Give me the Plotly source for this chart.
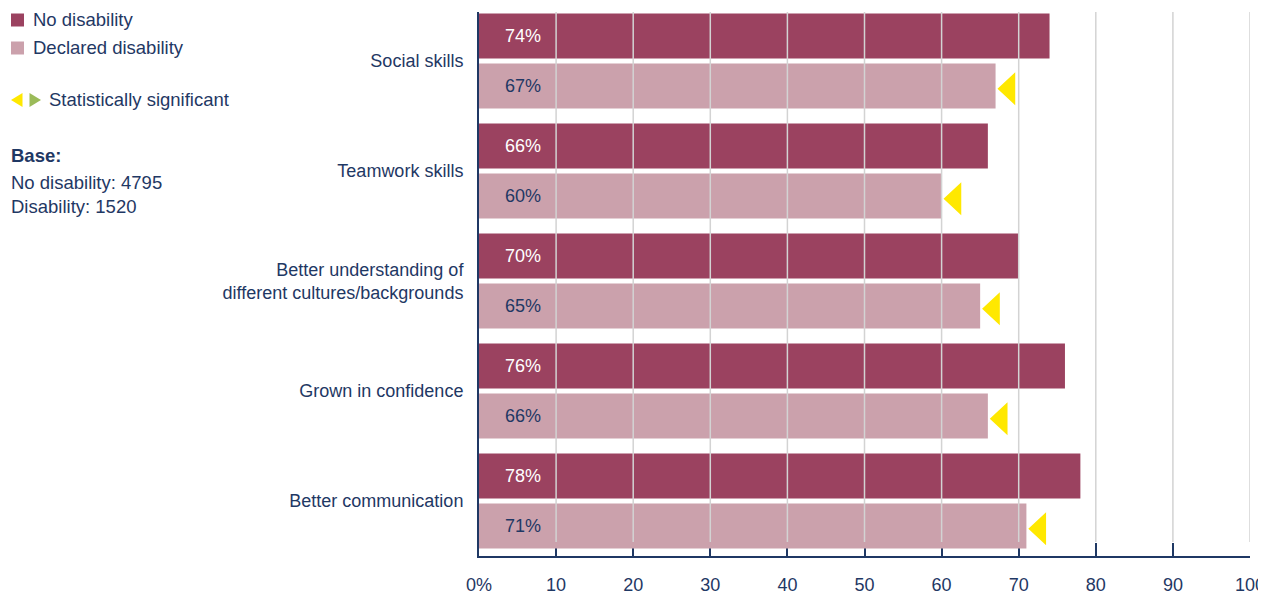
import plotly.graph_objects as go

categories = ["Social skills", "Teamwork skills",
              "Better understanding of<br>different cultures/backgrounds",
              "Grown in confidence", "Better communication"]
no_disability = [74, 66, 70, 76, 78]
declared_disability = [67, 60, 65, 66, 71]
significant_lower = [True, True, True, True, True]
x_ticks = [0, 10, 20, 30, 40, 50, 60, 70, 80, 90, 100]
x_ticktext = ["0%", "10", "20", "30", "40", "50", "60", "70", "80", "90", "100"]

NAVY = "#1F3864"
DARK = "#9B4260"
LIGHT = "#CBA1AC"
YELLOW = "#FFE800"
GREEN = "#9BBB59"
FONT = "Liberation Sans, Arial, sans-serif"
FS = 18
FS_LEG = 18.5

PAGE_OFF = 8  # page body margin
W, H = 1266 - PAGE_OFF, 596 - PAGE_OFF
ML, MR, MT, MB = 0, 16, 4, 40
PW = W - ML - MR
PH = H - MT - MB


def px(x):
    return (x - PAGE_OFF - ML) / PW


def py(y):
    return 1 - (y - PAGE_OFF - MT) / PH


ypos = list(range(len(categories)))
OFF = 0.2273
BW = 0.409

fig = go.Figure()
fig.add_trace(go.Bar(y=[i - OFF for i in ypos], x=no_disability, orientation="h",
                     width=BW, marker=dict(color=DARK, line=dict(width=0)),
                     name="No disability", hoverinfo="x"))
fig.add_trace(go.Bar(y=[i + OFF for i in ypos], x=declared_disability, orientation="h",
                     width=BW, marker=dict(color=LIGHT, line=dict(width=0)),
                     name="Declared disability", hoverinfo="x"))

# significance triangles (derived from data values)
tx, ty = [], []
for i, (v, s) in enumerate(zip(declared_disability, significant_lower)):
    if not s:
        continue
    c = i + OFF + 0.025
    tx += [v + 0.25, v + 2.55, v + 2.55, v + 0.25, None]
    ty += [c, c - 0.15, c + 0.15, c, None]
fig.add_trace(go.Scatter(x=tx, y=ty, mode="lines", fill="toself", fillcolor=YELLOW,
                         line=dict(width=0, color=YELLOW), hoverinfo="skip",
                         showlegend=False))

annotations = []
for i in ypos:
    annotations.append(dict(x=5.7, y=i - OFF, xref="x", yref="y",
                            text=f"{no_disability[i]}%", showarrow=False,
                            font=dict(color="white", size=FS, family=FONT)))
    annotations.append(dict(x=5.7, y=i + OFF, xref="x", yref="y",
                            text=f"{declared_disability[i]}%", showarrow=False,
                            font=dict(color=NAVY, size=FS, family=FONT)))

legend_texts = [
    (31, 20, "No disability"),
    (31, 47, "Declared disability"),
    (47, 100, "Statistically significant"),
    (9, 155, "<b>Base:</b>"),
    (9, 182, "No disability: 4795"),
    (9, 207, "Disability: 1520"),
]
for x, y, t in legend_texts:
    annotations.append(dict(x=px(x), y=py(y), xref="paper", yref="paper", text=t,
                            showarrow=False, xanchor="left", yanchor="middle",
                            font=dict(color=NAVY, size=FS_LEG, family=FONT)))

shapes = []
# gridlines above bars
for t in x_ticks[1:]:
    shapes.append(dict(type="line", xref="x", yref="paper", x0=t, x1=t,
                       y0=py(542), y1=1, layer="above",
                       line=dict(color="#D3D3D3", width=1.5)))
# legend markers
shapes.append(dict(type="rect", xref="paper", yref="paper", x0=px(11), x1=px(24),
                   y0=py(26.5), y1=py(13.5), fillcolor=DARK, line=dict(width=0)))
shapes.append(dict(type="rect", xref="paper", yref="paper", x0=px(11), x1=px(24),
                   y0=py(54.5), y1=py(41.5), fillcolor=LIGHT, line=dict(width=0)))
shapes.append(dict(type="path", xref="paper", yref="paper",
                   path=f"M {px(11)} {py(100)} L {px(22.5)} {py(93)} L {px(22.5)} {py(107)} Z",
                   fillcolor=YELLOW, line=dict(width=0)))
shapes.append(dict(type="path", xref="paper", yref="paper",
                   path=f"M {px(41)} {py(100)} L {px(29.5)} {py(93)} L {px(29.5)} {py(107)} Z",
                   fillcolor=GREEN, line=dict(width=0)))

fig.update_layout(
    width=W, height=H,
    margin=dict(l=ML, r=MR, t=MT, b=MB, autoexpand=False),
    paper_bgcolor="white", plot_bgcolor="white",
    showlegend=False,
    barmode="overlay",
    font=dict(family=FONT, size=FS, color=NAVY),
    annotations=annotations,
    shapes=shapes,
    xaxis=dict(domain=[px(479), 1], range=[0, 100], tickvals=x_ticks,
               ticktext=x_ticktext, ticks="inside", ticklen=13, tickwidth=2,
               tickcolor=NAVY, showline=True, linecolor=NAVY, linewidth=2,
               showgrid=False, zeroline=False, layer="below traces", automargin=False,
               ticklabelstandoff=11, tickfont=dict(size=FS, color=NAVY, family=FONT)),
    yaxis=dict(range=[4.5, -0.445], tickvals=ypos, ticktext=categories,
               showline=True, linecolor=NAVY, linewidth=2, ticks="", automargin=False,
               showgrid=False, zeroline=False, layer="above traces",
               ticklabelstandoff=10, tickfont=dict(size=FS, color=NAVY, family=FONT)),
)

fig.write_html("out.html")
